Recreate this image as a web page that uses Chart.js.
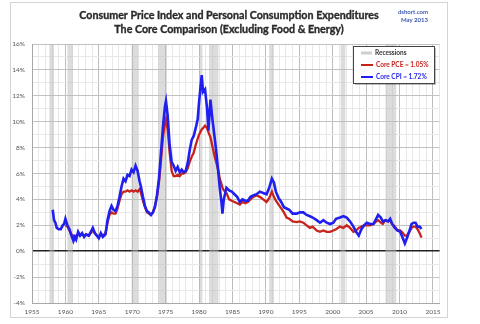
<!DOCTYPE html>
<html>
<head>
<meta charset="utf-8">
<script src="https://cdn.jsdelivr.net/npm/chart.js"></script>
<style>
  html, body { margin: 0; padding: 0; background: #fff; }
  #wrap { position: relative; width: 480px; height: 324px; }
</style>
</head>
<body>
<div id="wrap"><canvas id="cpiChart"></canvas></div>
<script>
// year (decimal), core CPI yoy %, core PCE yoy %
const years = [
  1958.1, 1958.3, 1958.5, 1958.7, 1959.0, 1959.3, 1959.6, 1959.8,
  1960.0, 1960.3, 1960.6, 1960.9, 1961.2, 1961.4, 1961.6, 1961.9,
  1962.2, 1962.5, 1962.8, 1963.1, 1963.5, 1963.8, 1964.1, 1964.4,
  1964.7, 1965.0, 1965.3, 1965.6, 1966.0, 1966.3, 1966.6, 1966.9,
  1967.2, 1967.5, 1967.8, 1968.1, 1968.4, 1968.7, 1969.0, 1969.3,
  1969.6, 1969.9, 1970.2, 1970.5, 1970.8, 1971.1, 1971.3, 1971.6,
  1971.9, 1972.2, 1972.5, 1972.8, 1973.1, 1973.4, 1973.7, 1974.0,
  1974.3, 1974.6, 1974.9, 1975.05, 1975.3, 1975.6, 1975.9, 1976.2,
  1976.5, 1976.8, 1977.1, 1977.4, 1977.7, 1978.0, 1978.3, 1978.6,
  1978.9, 1979.2, 1979.5, 1979.8, 1980.0, 1980.2, 1980.4, 1980.6,
  1980.9, 1981.2, 1981.4, 1981.7, 1982.0, 1982.3, 1982.6, 1982.9,
  1983.1, 1983.35, 1983.5, 1983.7, 1984.1, 1984.5, 1984.9, 1985.3,
  1985.7, 1986.1, 1986.5, 1986.9, 1987.3, 1987.7, 1988.1, 1988.6,
  1989.1, 1989.6, 1990.1, 1990.5, 1990.9, 1991.2, 1991.5, 1991.9,
  1992.3, 1992.7, 1993.1, 1993.5, 1994.0, 1994.6, 1995.1, 1995.6,
  1996.1, 1996.6, 1997.0, 1997.6, 1998.1, 1998.6, 1999.1, 1999.6,
  2000.1, 2000.5, 2001.1, 2001.6, 2002.1, 2002.6, 2003.1, 2003.5,
  2003.9, 2004.3, 2004.7, 2005.1, 2005.6, 2006.1, 2006.5, 2006.8,
  2007.2, 2007.5, 2007.9, 2008.3, 2008.6, 2008.9, 2009.3, 2009.7,
  2010.1, 2010.5, 2010.8, 2011.1, 2011.5, 2011.8, 2012.1, 2012.4,
  2012.7, 2013.0, 2013.3
];
const coreCPI = [
  3.2, 2.4, 2.2, 1.8, 1.7, 1.7, 2.0, 2.1,
  2.5, 2.0, 1.7, 1.2, 0.8, 1.1, 0.9, 1.5,
  1.2, 1.4, 1.1, 1.3, 1.2, 1.5, 1.8, 1.4,
  1.2, 1.0, 1.4, 1.1, 1.3, 2.4, 3.1, 3.5,
  3.2, 3.1, 3.5, 4.2, 5.0, 5.6, 5.4, 5.9,
  5.8, 6.3, 6.1, 6.6, 6.2, 5.4, 5.0, 4.2,
  3.5, 3.1, 3.0, 2.8, 3.0, 3.4, 4.3, 5.6,
  7.6, 9.6, 11.2, 11.6, 10.5, 8.2, 6.9, 6.6,
  6.2, 6.5, 6.1, 6.3, 6.1, 6.2, 6.8, 7.8,
  8.6, 8.9, 9.5, 10.2, 11.5, 12.6, 13.6, 12.3,
  12.5, 11.0, 9.3, 11.7, 10.2, 8.9, 7.6, 6.0,
  4.9, 3.8, 2.9, 4.0, 4.9, 4.7, 4.6, 4.4,
  4.2, 3.8, 4.0, 3.9, 3.9, 4.2, 4.3, 4.4,
  4.6, 4.5, 4.4, 4.9, 5.6, 5.3, 4.6, 4.1,
  3.8, 3.4, 3.3, 3.2, 2.9, 2.9, 3.0, 3.0,
  2.8, 2.7, 2.6, 2.4, 2.2, 2.4, 2.2, 2.1,
  2.2, 2.5, 2.6, 2.7, 2.6, 2.3, 1.9, 1.5,
  1.2, 1.7, 2.0, 2.2, 2.1, 2.1, 2.5, 2.8,
  2.6, 2.3, 2.4, 2.3, 2.5, 2.1, 1.8, 1.6,
  1.5, 1.0, 0.6, 1.0, 1.6, 2.1, 2.2, 2.2,
  1.9, 1.9, 1.72
];
const corePCE = [
  null, null, null, null, null, null, null, null,
  2.0, 1.9, 1.6, 1.3, 1.2, 1.1, 1.2, 1.3,
  1.2, 1.3, 1.2, 1.3, 1.2, 1.4, 1.6, 1.4,
  1.2, 1.1, 1.3, 1.2, 1.4, 2.2, 2.8, 3.0,
  2.9, 2.9, 3.3, 3.9, 4.4, 4.6, 4.6, 4.7,
  4.6, 4.7, 4.6, 4.7, 4.6, 4.8, 4.5, 3.9,
  3.4, 3.0, 2.9, 2.8, 3.0, 3.5, 4.2, 5.3,
  7.0, 8.8, 9.9, 10.2, 9.4, 7.6, 6.2, 5.8,
  5.8, 5.9, 5.8, 6.0, 6.0, 6.1, 6.4, 6.9,
  7.3, 7.6, 8.2, 8.7, 9.0, 9.2, 9.4, 9.5,
  9.7, 9.5, 9.2, 8.8, 8.1, 7.4, 6.8, 6.2,
  5.6, 5.2, 4.9, 4.7, 4.5, 4.0, 3.9, 3.8,
  3.7, 3.6, 3.8, 3.7, 3.8, 4.0, 4.2, 4.3,
  4.2, 4.0, 3.8, 4.1, 4.6, 4.2, 3.9, 3.6,
  3.3, 3.0, 2.6, 2.5, 2.3, 2.25, 2.3, 2.2,
  2.0, 1.8, 1.9, 1.6, 1.5, 1.6, 1.5, 1.5,
  1.6, 1.7, 1.9, 1.8, 2.0, 1.8, 1.5, 1.6,
  1.8, 1.9, 2.0, 2.0, 2.0, 2.1, 2.3, 2.4,
  2.2, 2.1, 2.4, 2.3, 2.4, 2.1, 1.9, 1.6,
  1.6, 1.4, 1.2, 1.2, 1.5, 1.8, 1.9, 1.9,
  1.7, 1.4, 1.05
];
// recession start / end (decimal years)
const recessionStart = [1957.6, 1960.3, 1969.9, 1973.9, 1980.0, 1981.5, 1990.5, 2001.2, 2007.9];
const recessionEnd   = [1958.3, 1961.1, 1970.9, 1975.2, 1980.5, 1982.9, 1991.2, 2001.9, 2009.5];

const titleLines = [
  'Consumer Price Index and Personal Consumption Expenditures',
  'The Core Comparison (Excluding Food & Energy)'
];
const legendLabels = ['Recessions', 'Core PCE = 1.05%', 'Core CPI = 1.72%'];

const BLUE = '#1f1ff0';
const RED = '#c8231b';

const toPoints = (vals) => years.map((x, i) => ({ x: x, y: vals[i] }));

// background, frame, recession bars, title, legend
const decorations = {
  id: 'decorations',
  beforeDraw(chart) {
    const c = chart.ctx;
    c.save();
    c.fillStyle = '#fff';
    c.fillRect(0, 0, chart.width, chart.height);
    c.strokeStyle = '#d4d4d4';
    c.lineWidth = 1;
    c.strokeRect(10.5, 2.5, 437, 315);
    c.restore();
  },
  beforeDatasetsDraw(chart) {
    const c = chart.ctx;
    const xs = chart.scales.x;
    const a = chart.chartArea;
    c.save();
    c.fillStyle = 'rgba(185,185,185,0.5)';
    recessionStart.forEach((s, i) => {
      const x1 = xs.getPixelForValue(s);
      const x2 = xs.getPixelForValue(recessionEnd[i]);
      c.fillRect(x1, a.top, x2 - x1, a.bottom - a.top);
    });
    c.restore();
  },
  afterDraw(chart) {
    const c = chart.ctx;
    c.save();
    // title (a thin stroke makes it look heavier, like the original)
    c.fillStyle = '#2a2a2a';
    c.strokeStyle = '#2a2a2a';
    c.lineWidth = 0.35;
    c.textAlign = 'center';
    c.textBaseline = 'middle';
    c.font = 'bold 10.7px Lato';
    titleLines.forEach((t, i) => {
      c.fillText(t, 229, 16 + i * 14);
      c.strokeText(t, 229, 16 + i * 14);
    });
    // source
    c.textAlign = 'right';
    c.fillStyle = '#3a5ab0';
    c.font = 'bold 6px Lato';
    c.fillText('dshort.com', 428, 12);
    c.fillText('May 2013', 428, 20);

    // legend box
    const bx = 353, by = 46, bw = 81, bh = 37;
    c.fillStyle = 'rgba(0,0,0,0.25)';
    c.fillRect(bx + 2, by + 2, bw, bh);
    c.fillStyle = '#fff';
    c.fillRect(bx, by, bw, bh);
    c.strokeStyle = '#444';
    c.lineWidth = 1;
    c.strokeRect(bx + 0.5, by + 0.5, bw, bh);

    c.textAlign = 'left';
    c.font = 'bold 6.5px Lato';
    const rows = [by + 7, by + 19, by + 31];
    // recessions swatch
    c.fillStyle = '#cfcfcf';
    c.fillRect(bx + 8, rows[0] - 1.5, 11, 3);
    c.fillStyle = '#333';
    c.fillText(legendLabels[0], bx + 22, rows[0]);
    // PCE
    c.strokeStyle = RED;
    c.lineWidth = 2;
    c.beginPath(); c.moveTo(bx + 8, rows[1]); c.lineTo(bx + 20, rows[1]); c.stroke();
    c.fillStyle = RED;
    c.fillText(legendLabels[1], bx + 23, rows[1]);
    // CPI
    c.strokeStyle = BLUE;
    c.beginPath(); c.moveTo(bx + 8, rows[2]); c.lineTo(bx + 20, rows[2]); c.stroke();
    c.fillStyle = BLUE;
    c.fillText(legendLabels[2], bx + 23, rows[2]);
    c.restore();
  }
};

new Chart(document.getElementById('cpiChart'), {
  type: 'line',
  data: {
    datasets: [
      {
        label: 'Core CPI',
        data: toPoints(coreCPI),
        borderColor: BLUE,
        borderWidth: 2.6,
        pointRadius: 0,
        tension: 0,
        order: 0
      },
      {
        label: 'Core PCE',
        data: toPoints(corePCE),
        borderColor: RED,
        borderWidth: 2.3,
        pointRadius: 0,
        tension: 0,
        spanGaps: false,
        order: 1
      }
    ]
  },
  options: {
    responsive: true,
    maintainAspectRatio: false,
    animation: false,
    layout: { padding: { top: 44, right: 40.4, bottom: 0, left: 0 } },
    plugins: {
      legend: { display: false },
      tooltip: { enabled: false },
      title: { display: false }
    },
    scales: {
      x: {
        type: 'linear',
        min: 1955,
        max: 2016,
        afterFit: (s) => { s.height = 21; },
        border: { display: true, color: '#a8a8a8' },
        grid: {
          drawTicks: false,
          color: (ctx) => (ctx.tick && ctx.tick.value % 5 === 0 ? '#bdbdbd' : '#e8e8e8')
        },
        ticks: {
          stepSize: 1,
          autoSkip: false,
          maxRotation: 0,
          padding: 5,
          color: '#555',
          font: { family: 'Lato', size: 6.5 },
          callback: (v) => (v % 5 === 0 && v < 2016 ? String(v) : '')
        }
      },
      y: {
        min: -4,
        max: 16,
        afterFit: (s) => { s.width = 32; },
        border: { display: true, color: '#a8a8a8' },
        grid: {
          drawTicks: false,
          color: (ctx) => {
            const v = ctx.tick ? ctx.tick.value : 1;
            if (v === 0) return '#222';
            return v % 2 === 0 ? '#c2c2c2' : '#e8e8e8';
          },
          lineWidth: (ctx) => (ctx.tick && ctx.tick.value === 0 ? 1.5 : 1)
        },
        ticks: {
          stepSize: 1,
          autoSkip: false,
          padding: 7,
          color: '#555',
          font: { family: 'Lato', size: 6.5 },
          callback: (v) => (v % 2 === 0 ? v + '%' : '')
        }
      }
    }
  },
  plugins: [decorations]
});
</script>
</body>
</html>
